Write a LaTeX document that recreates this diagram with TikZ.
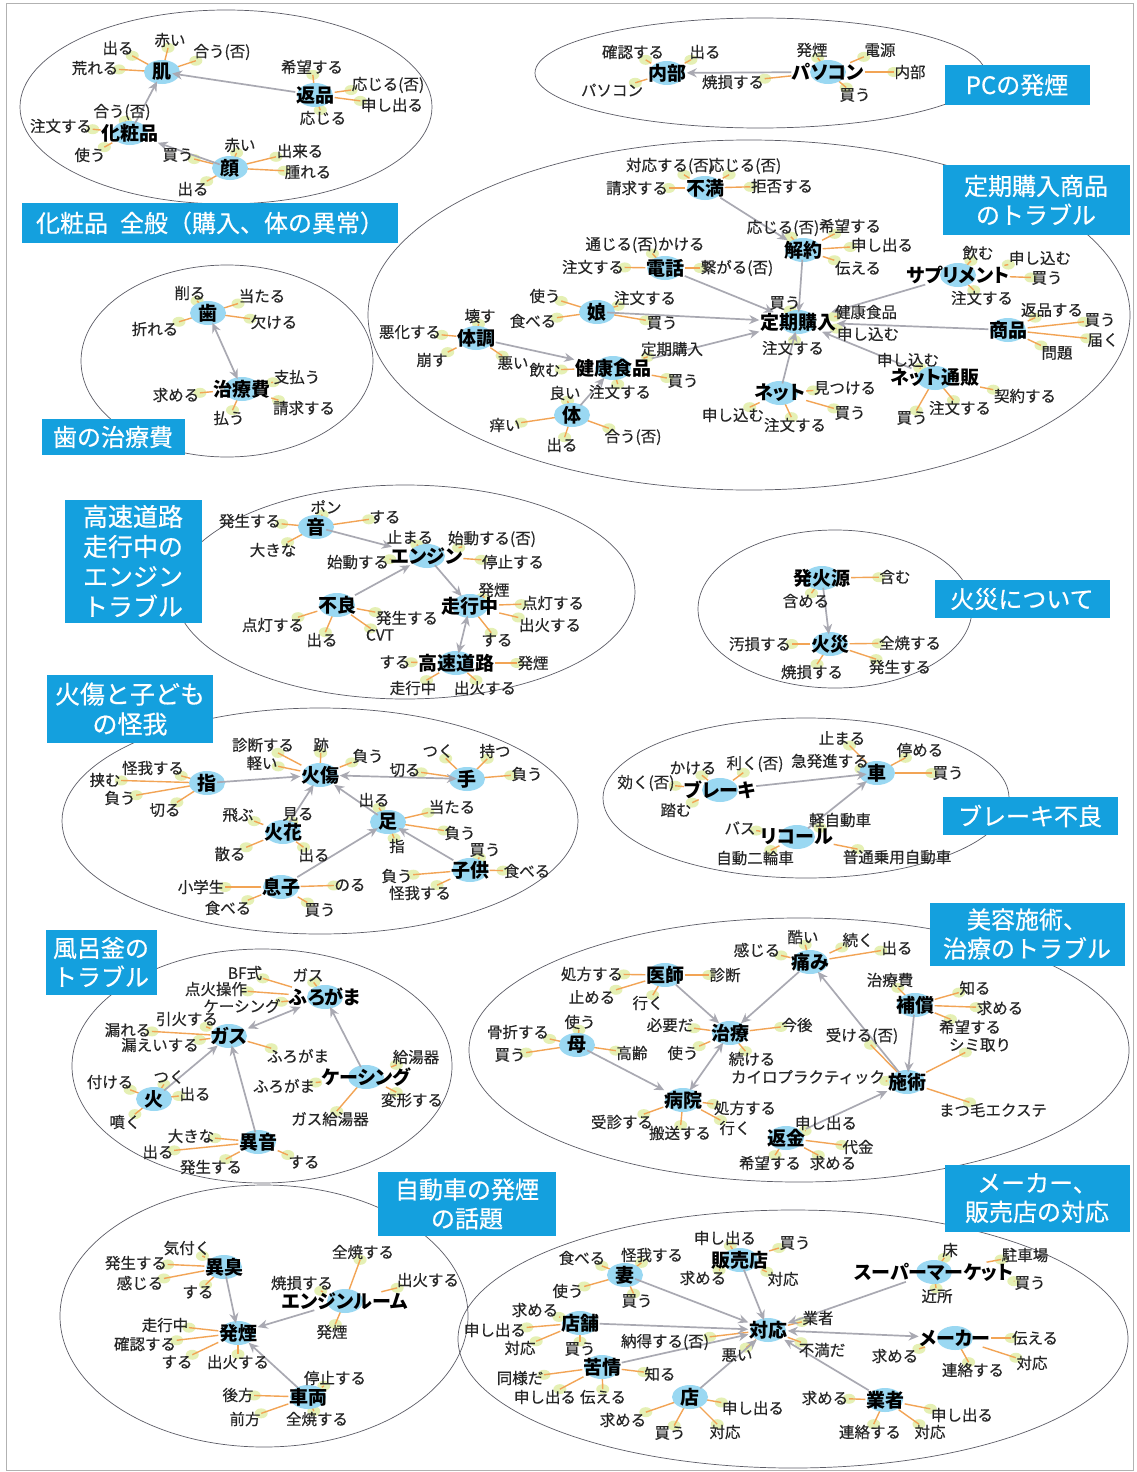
\documentclass[tikz,border=0pt]{standalone}
\usepackage{fontspec}
\setmainfont{Noto Sans CJK JP}
\newfontfamily\leaffont[FakeBold=0.4]{Noto Sans CJK JP}
\newfontfamily\hubfont[RawFeature=+palt]{Noto Sans CJK JP}
\newfontfamily\lblfont[FakeBold=0.5]{Noto Sans CJK JP}
\usetikzlibrary{shapes.geometric,arrows.meta}
\definecolor{hubblue}{HTML}{9AD8F2}
\definecolor{lblblue}{HTML}{14A0DE}
\definecolor{edgeor}{HTML}{F2A455}
\definecolor{argray}{HTML}{A9A9B2}
\definecolor{clline}{HTML}{5C5C66}
\definecolor{glowgreen}{HTML}{DDEB9C}
\pgfdeclarelayer{bg}\pgfdeclarelayer{mid}\pgfsetlayers{bg,mid,main}
\tikzset{
 hub/.style={inner sep=0.5pt, font=\hubfont\fontsize{19}{20}\selectfont\bfseries, text=black},
 lf/.style={inner sep=0.5pt, font=\leaffont\fontsize{15.5}{16}\selectfont, text=black!85},
 oe/.style={draw=edgeor, line width=1.4pt},
 glow/.style={ellipse, fill=glowgreen, fill opacity=0.75, minimum width=13pt, minimum height=10pt, inner sep=0pt},
 ga/.style={draw=argray, line width=1.7pt, -{Stealth[length=10pt,width=9pt]}},
 gb/.style={draw=argray, line width=1.7pt, {Stealth[length=10pt,width=9pt]}-{Stealth[length=10pt,width=9pt]}},
 cl/.style={draw=clline, line width=0.7pt},
 lbl/.style={fill=lblblue, text=white, align=center, inner sep=0pt, font=\lblfont\fontsize{24}{29}\selectfont},
}
\makeatletter
\newcommand\edgelist{}
\newcommand\bloblist{}
\newcommand\arrowlist{}
\newcommand\cloudlist{}
\newcommand\hubat[4]{\g@addto@macro\bloblist{\fill[hubblue] (#2,#3) ellipse [x radius=18pt, y radius=12pt];}\node[hub] (#1) at (#2,#3) {#4};}
\newcommand\leafat[5]{\node[lf] (#2) at (#3,#4) {#5};\g@addto@macro\edgelist{\path (#1) -- (#2) node[pos=1,glow] {};\draw[oe] (#1) -- (#2);}}
\newcommand\conn[3][ga]{\g@addto@macro\arrowlist{\draw[#1] (#2) -- (#3);}}
\newcommand\cloud[4]{\g@addto@macro\cloudlist{\draw[cl] (#1,#2) ellipse [x radius=#3pt, y radius=#4pt];}}
\makeatother
\begin{document}
\begin{tikzpicture}[x=1pt,y=-1pt]
\useasboundingbox (0,0) rectangle (1136,1472);

% ---------- A: cosmetics
\cloud{226}{107}{206}{97}
\hubat{Ahada}{162}{72}{肌}
\leafat{Ahada}{A1}{118}{48}{出る}
\leafat{Ahada}{A2}{170}{40}{赤い}
\leafat{Ahada}{A3}{222}{52}{合う(否)}
\leafat{Ahada}{A4}{95}{68}{荒れる}
\hubat{Ahen}{315}{95}{返品}
\leafat{Ahen}{A5}{312}{67}{希望する}
\leafat{Ahen}{A6}{388}{85}{応じる(否)}
\leafat{Ahen}{A7}{392}{105}{申し出る}
\leafat{Ahen}{A8}{323}{118}{応じる}
\hubat{Akes}{130}{133}{化粧品}
\leafat{Akes}{A9}{122}{112}{合う(否)}
\leafat{Akes}{A10}{61}{126}{注文する}
\leafat{Akes}{A11}{90}{155}{使う}
\hubat{Akao}{230}{168}{顔}
\leafat{Akao}{A12}{178}{155}{買う}
\leafat{Akao}{A13}{240}{145}{赤い}
\leafat{Akao}{A14}{300}{151}{出来る}
\leafat{Akao}{A15}{308}{172}{腫れる}
\leafat{Akao}{A16}{193}{189}{出る}
\conn{Ahen}{Ahada}
\conn{Akes}{Ahada}
\conn{Akao}{Akes}
\node[lbl,minimum width=376pt,minimum height=40pt] (LA) at (210,223) {化粧品\hspace{0.5em}全般（購入、体の異常）};

% ---------- B: PC
\cloud{760}{73}{225}{55}
\hubat{Bnb}{667}{73}{内部}
\leafat{Bnb}{B1}{633}{52}{確認する}
\leafat{Bnb}{B2}{705}{52}{出る}
\leafat{Bnb}{B3}{612}{90}{パソコン}
\hubat{Bpc}{828}{72}{パソコン}
\leafat{Bpc}{B4}{733}{82}{焼損する}
\leafat{Bpc}{B5}{812}{50}{発煙}
\leafat{Bpc}{B6}{880}{50}{電源}
\leafat{Bpc}{B7}{910}{72}{内部}
\leafat{Bpc}{B8}{855}{95}{買う}
\conn{Bpc}{Bnb}
\node[lbl,minimum width=145pt,minimum height=40pt] (LB) at (1017,85) {PCの発煙};

% ---------- C: teeth
\cloud{227}{361}{146}{96}
\hubat{Cha}{208}{313}{歯}
\leafat{Cha}{C1}{190}{293}{削る}
\leafat{Cha}{C2}{262}{296}{当たる}
\leafat{Cha}{C3}{274}{322}{欠ける}
\leafat{Cha}{C4}{155}{329}{折れる}
\hubat{Cch}{242}{389}{治療費}
\leafat{Cch}{C5}{297}{377}{支払う}
\leafat{Cch}{C6}{304}{408}{請求する}
\leafat{Cch}{C7}{176}{395}{求める}
\leafat{Cch}{C8}{229}{418}{払う}
\conn[gb]{Cha}{Cch}
\node[lbl,minimum width=143pt,minimum height=36pt] (LC) at (113,437) {歯の治療費};

% ---------- D: subscription
\cloud{749}{315}{381}{175}
\hubat{Dfm}{705}{188}{不満}
\leafat{Dfm}{D1}{670}{166}{対応する(否)}
\leafat{Dfm}{D2}{745}{166}{応じる(否)}
\leafat{Dfm}{D3}{637}{188}{請求する}
\leafat{Dfm}{D4}{782}{186}{拒否する}
\hubat{Dky}{803}{250}{解約}
\leafat{Dky}{D5}{783}{228}{応じる(否)}
\leafat{Dky}{D6}{850}{226}{希望する}
\leafat{Dky}{D7}{882}{245}{申し出る}
\leafat{Dky}{D8}{858}{268}{伝える}
\hubat{Dtw}{665}{268}{電話}
\leafat{Dtw}{D9}{645}{245}{通じる(否)かける}
\leafat{Dtw}{D10}{593}{267}{注文する}
\leafat{Dtw}{D11}{737}{268}{繋がる(否)}
\hubat{Dms}{597}{312}{娘}
\leafat{Dms}{D12}{545}{296}{使う}
\leafat{Dms}{D13}{645}{298}{注文する}
\leafat{Dms}{D14}{533}{321}{食べる}
\leafat{Dms}{D15}{662}{323}{買う}
\hubat{Dtc}{476}{338}{体調}
\leafat{Dtc}{D16}{480}{316}{壊す}
\leafat{Dtc}{D17}{410}{332}{悪化する}
\leafat{Dtc}{D18}{432}{360}{崩す}
\leafat{Dtc}{D19}{513}{363}{悪い}
\hubat{Dkk}{613}{368}{健康食品}
\leafat{Dkk}{D20}{672}{349}{定期購入}
\leafat{Dkk}{D21}{545}{370}{飲む}
\leafat{Dkk}{D22}{683}{381}{買う}
\leafat{Dkk}{D23}{620}{392}{注文する}
\hubat{Dkr}{572}{415}{体}
\leafat{Dkr}{D24}{565}{393}{良い}
\leafat{Dkr}{D25}{505}{425}{痒い}
\leafat{Dkr}{D26}{562}{445}{出る}
\leafat{Dkr}{D27}{633}{437}{合う(否)}
\hubat{Dtk}{798}{322}{定期購入}
\leafat{Dtk}{D28}{785}{303}{買う}
\leafat{Dtk}{D29}{866}{312}{健康食品}
\leafat{Dtk}{D30}{868}{334}{申し込む}
\leafat{Dtk}{D31}{793}{348}{注文する}
\hubat{Dsp}{958}{275}{サプリメント}
\leafat{Dsp}{D32}{978}{253}{飲む}
\leafat{Dsp}{D33}{1040}{258}{申し込む}
\leafat{Dsp}{D34}{1047}{278}{買う}
\leafat{Dsp}{D35}{982}{298}{注文する}
\hubat{Dsh}{1008}{330}{商品}
\leafat{Dsh}{D36}{1052}{310}{返品する}
\leafat{Dsh}{D37}{1100}{320}{買う}
\leafat{Dsh}{D38}{1103}{340}{届く}
\leafat{Dsh}{D39}{1057}{353}{問題}
\hubat{Dnt}{935}{378}{ネット通販}
\leafat{Dnt}{D40}{908}{360}{申し込む}
\leafat{Dnt}{D41}{1025}{396}{契約する}
\leafat{Dnt}{D42}{960}{408}{注文する}
\leafat{Dnt}{D43}{912}{418}{買う}
\hubat{Dne}{780}{393}{ネット}
\leafat{Dne}{D44}{845}{388}{見つける}
\leafat{Dne}{D45}{850}{413}{買う}
\leafat{Dne}{D46}{733}{415}{申し込む}
\leafat{Dne}{D47}{795}{425}{注文する}
\conn{Dfm}{Dky}
\conn{Dky}{Dtk}
\conn{Dtw}{Dtk}
\conn{Dms}{Dtk}
\conn{Dkk}{Dtk}
\conn{Dtc}{Dkk}
\conn{Dkr}{Dkk}
\conn{Dsp}{Dtk}
\conn{Dsh}{Dtk}
\conn{Dnt}{Dtk}
\conn{Dne}{Dtk}
\node[lbl,minimum width=187pt,minimum height=70pt] (LD) at (1036,200) {定期購入商品\\のトラブル};

% ---------- E: engine
\cloud{405}{592}{230}{107}
\hubat{Eot}{316}{527}{音}
\leafat{Eot}{E1}{326}{507}{ポン}
\leafat{Eot}{E2}{385}{517}{する}
\leafat{Eot}{E3}{250}{521}{発生する}
\leafat{Eot}{E4}{273}{550}{大きな}
\hubat{Eeg}{427}{556}{エンジン}
\leafat{Eeg}{E5}{410}{537}{止まる}
\leafat{Eeg}{E6}{492}{539}{始動する(否)}
\leafat{Eeg}{E7}{358}{562}{始動する}
\leafat{Eeg}{E8}{513}{562}{停止する}
\hubat{Efr}{337}{605}{不良}
\leafat{Efr}{E9}{273}{625}{点灯する}
\leafat{Efr}{E10}{322}{640}{出る}
\leafat{Efr}{E11}{380}{635}{CVT}
\leafat{Efr}{E12}{407}{618}{発生する}
\hubat{Esk}{470}{606}{走行中}
\leafat{Esk}{E13}{494}{590}{発煙}
\leafat{Esk}{E14}{553}{603}{点灯する}
\leafat{Esk}{E15}{550}{625}{出火する}
\leafat{Esk}{E16}{497}{640}{する}
\hubat{Ekd}{456}{663}{高速道路}
\leafat{Ekd}{E17}{395}{662}{する}
\leafat{Ekd}{E18}{533}{663}{発煙}
\leafat{Ekd}{E19}{413}{688}{走行中}
\leafat{Ekd}{E20}{485}{688}{出火する}
\conn{Eot}{Eeg}
\conn{Efr}{Eeg}
\conn{Eeg}{Esk}
\conn[gb]{Esk}{Ekd}
\node[lbl,minimum width=137pt,minimum height=123pt,font=\lblfont\fontsize{25}{30}\selectfont] (LE) at (133,561) {高速道路\\走行中の\\エンジン\\トラブル};

% ---------- F: fire
\cloud{835}{609}{137}{79}
\hubat{Fhk}{822}{578}{発火源}
\leafat{Fhk}{F1}{895}{577}{含む}
\leafat{Fhk}{F2}{806}{601}{含める}
\hubat{Fks}{830}{644}{火災}
\leafat{Fks}{F3}{760}{644}{汚損する}
\leafat{Fks}{F4}{910}{643}{全焼する}
\leafat{Fks}{F5}{812}{672}{焼損する}
\leafat{Fks}{F6}{900}{667}{発生する}
\conn{Fhk}{Fks}
\node[lbl,minimum width=175pt,minimum height=38pt] (LF) at (1022,599) {火災について};

% ---------- G: brake
\cloud{806}{798}{203}{80}
\hubat{Gkr}{877}{773}{車}
\leafat{Gkr}{G1}{842}{738}{止まる}
\leafat{Gkr}{G2}{920}{750}{停める}
\leafat{Gkr}{G3}{948}{773}{買う}
\leafat{Gkr}{G4}{830}{761}{急発進する}
\hubat{Gbr}{720}{790}{ブレーキ}
\leafat{Gbr}{G5}{755}{764}{利く(否)}
\leafat{Gbr}{G6}{693}{768}{かける}
\leafat{Gbr}{G7}{646}{783}{効く(否)}
\leafat{Gbr}{G8}{676}{810}{踏む}
\hubat{Grc}{797}{837}{リコール}
\leafat{Grc}{G9}{840}{820}{軽自動車}
\leafat{Grc}{G10}{740}{828}{バス}
\leafat{Grc}{G11}{755}{858}{自動二輪車}
\leafat{Grc}{G12}{897}{857}{普通乗用自動車}
\conn{Gbr}{Gkr}
\conn{Grc}{Gkr}
\node[lbl,minimum width=175pt,minimum height=38pt] (LG) at (1030,816) {ブレーキ不良};

% ---------- H: burns
\cloud{320}{821}{258}{113}
\hubat{Hyk}{320}{775}{火傷}
\leafat{Hyk}{H1}{263}{745}{診断する}
\leafat{Hyk}{H2}{321}{745}{跡}
\leafat{Hyk}{H3}{262}{763}{軽い}
\leafat{Hyk}{H4}{368}{756}{負う}
\hubat{Hyb}{207}{783}{指}
\leafat{Hyb}{H5}{153}{768}{怪我する}
\leafat{Hyb}{H6}{105}{780}{挟む}
\leafat{Hyb}{H7}{120}{798}{負う}
\leafat{Hyb}{H8}{165}{810}{切る}
\hubat{Hte}{467}{779}{手}
\leafat{Hte}{H9}{405}{770}{切る}
\leafat{Hte}{H10}{438}{751}{つく}
\leafat{Hte}{H11}{495}{751}{持つ}
\leafat{Hte}{H12}{527}{774}{負う}
\hubat{Has}{388}{822}{足}
\leafat{Has}{H13}{374}{800}{出る}
\leafat{Has}{H14}{452}{807}{当たる}
\leafat{Has}{H15}{460}{833}{負う}
\leafat{Has}{H16}{397}{846}{指}
\hubat{Hhb}{283}{832}{火花}
\leafat{Hhb}{H17}{238}{815}{飛ぶ}
\leafat{Hhb}{H18}{298}{814}{見る}
\leafat{Hhb}{H19}{230}{854}{散る}
\leafat{Hhb}{H20}{314}{855}{出る}
\hubat{Hkd}{470}{870}{子供}
\leafat{Hkd}{H21}{485}{850}{買う}
\leafat{Hkd}{H22}{527}{871}{食べる}
\leafat{Hkd}{H23}{397}{876}{負う}
\leafat{Hkd}{H24}{420}{893}{怪我する}
\hubat{Hms}{281}{887}{息子}
\leafat{Hms}{H25}{201}{887}{小学生}
\leafat{Hms}{H26}{228}{908}{食べる}
\leafat{Hms}{H27}{350}{885}{のる}
\leafat{Hms}{H28}{320}{910}{買う}
\conn{Hyb}{Hyk}
\conn[gb]{Hte}{Hyk}
\conn{Hhb}{Hyk}
\conn{Has}{Hyk}
\conn{Hms}{Has}
\conn{Hkd}{Has}
\node[lbl,minimum width=166pt,minimum height=68pt,font=\lblfont\fontsize{25}{30}\selectfont] (LH) at (130,709) {火傷と子ども\\の怪我};

% ---------- I: bath boiler
\cloud{262}{1066}{190}{117}
\hubat{Ifg}{325}{997}{ふろがま}
\leafat{Ifg}{I1}{245}{973}{BF式}
\leafat{Ifg}{I2}{308}{975}{ガス}
\leafat{Ifg}{I3}{216}{989}{点火操作}
\leafat{Ifg}{I4}{242}{1006}{ケーシング}
\hubat{Igs}{229}{1036}{ガス}
\leafat{Igs}{I5}{187}{1019}{引火する}
\leafat{Igs}{I6}{128}{1030}{漏れる}
\leafat{Igs}{I7}{160}{1045}{漏えいする}
\leafat{Igs}{I8}{298}{1056}{ふろがま}
\hubat{Ihi}{154}{1099}{火}
\leafat{Ihi}{I9}{169}{1077}{つく}
\leafat{Ihi}{I10}{110}{1082}{付ける}
\leafat{Ihi}{I11}{195}{1094}{出る}
\leafat{Ihi}{I12}{125}{1122}{噴く}
\hubat{Ics}{366}{1077}{ケーシング}
\leafat{Ics}{I13}{416}{1057}{給湯器}
\leafat{Ics}{I14}{284}{1086}{ふろがま}
\leafat{Ics}{I15}{412}{1100}{変形する}
\leafat{Ics}{I16}{330}{1119}{ガス給湯器}
\hubat{Iin}{258}{1142}{異音}
\leafat{Iin}{I17}{191}{1136}{大きな}
\leafat{Iin}{I18}{158}{1152}{出る}
\leafat{Iin}{I19}{211}{1167}{発生する}
\leafat{Iin}{I20}{304}{1162}{する}
\conn[gb]{Igs}{Ifg}
\conn{Ics}{Ifg}
\conn{Ihi}{Igs}
\conn{Iin}{Igs}
\node[lbl,minimum width=111pt,minimum height=65pt] (LI) at (101,962) {風呂釜の\\トラブル};

% ---------- J: beauty
\cloud{799}{1050}{330}{132}
\hubat{Jit}{810}{962}{痛み}
\leafat{Jit}{J1}{803}{937}{酷い}
\leafat{Jit}{J2}{858}{940}{続く}
\leafat{Jit}{J3}{897}{948}{出る}
\leafat{Jit}{J4}{757}{950}{感じる}
\hubat{Jis}{665}{975}{医師}
\leafat{Jis}{J5}{592}{974}{処方する}
\leafat{Jis}{J6}{725}{975}{診断}
\leafat{Jis}{J7}{592}{997}{止める}
\leafat{Jis}{J8}{648}{1003}{行く}
\hubat{Jhs}{915}{1005}{補償}
\leafat{Jhs}{J9}{890}{980}{治療費}
\leafat{Jhs}{J10}{975}{988}{知る}
\leafat{Jhs}{J11}{1000}{1008}{求める}
\leafat{Jhs}{J12}{970}{1027}{希望する}
\hubat{Jcr}{730}{1033}{治療}
\leafat{Jcr}{J13}{670}{1025}{必要だ}
\leafat{Jcr}{J14}{797}{1025}{今後}
\leafat{Jcr}{J15}{683}{1053}{使う}
\leafat{Jcr}{J16}{752}{1059}{続ける}
\hubat{Jha}{577}{1045}{母}
\leafat{Jha}{J17}{580}{1022}{使う}
\leafat{Jha}{J18}{518}{1032}{骨折する}
\leafat{Jha}{J19}{510}{1055}{買う}
\leafat{Jha}{J20}{632}{1053}{高齢}
\hubat{Jsj}{907}{1082}{施術}
\leafat{Jsj}{J21}{980}{1045}{シミ取り}
\leafat{Jsj}{J22}{862}{1036}{受ける(否)}
\leafat{Jsj}{J23}{808}{1077}{カイロプラクティック}
\leafat{Jsj}{J24}{993}{1110}{まつ毛エクステ}
\hubat{Jby}{683}{1100}{病院}
\leafat{Jby}{J25}{745}{1108}{処方する}
\leafat{Jby}{J26}{622}{1122}{受診する}
\leafat{Jby}{J27}{680}{1133}{搬送する}
\leafat{Jby}{J28}{735}{1128}{行く}
\hubat{Jhk}{786}{1138}{返金}
\leafat{Jhk}{J29}{826}{1123}{申し出る}
\leafat{Jhk}{J30}{858}{1147}{代金}
\leafat{Jhk}{J31}{770}{1163}{希望する}
\leafat{Jhk}{J32}{833}{1163}{求める}
\conn{Jis}{Jcr}
\conn{Jit}{Jcr}
\conn{Jsj}{Jit}
\conn{Jhs}{Jsj}
\conn{Jha}{Jby}
\conn[gb]{Jcr}{Jby}
\conn{Jhk}{Jsj}
\node[lbl,minimum width=195pt,minimum height=63pt] (LJ) at (1027,934) {美容施術、\\治療のトラブル};

% ---------- K: car smoke
\cloud{264}{1316}{204}{131}
\hubat{Kis}{224}{1267}{異臭}
\leafat{Kis}{K1}{187}{1248}{気付く}
\leafat{Kis}{K2}{136}{1263}{発生する}
\leafat{Kis}{K3}{140}{1283}{感じる}
\leafat{Kis}{K4}{198}{1292}{する}
\hubat{Ker}{345}{1301}{エンジンルーム}
\leafat{Ker}{K5}{363}{1252}{全焼する}
\leafat{Ker}{K6}{302}{1283}{焼損する}
\leafat{Ker}{K7}{428}{1280}{出火する}
\leafat{Ker}{K8}{332}{1332}{発煙}
\hubat{Khe}{238}{1333}{発煙}
\leafat{Khe}{K9}{165}{1325}{走行中}
\leafat{Khe}{K10}{145}{1344}{確認する}
\leafat{Khe}{K11}{177}{1362}{する}
\leafat{Khe}{K12}{238}{1362}{出火する}
\hubat{Ksr}{308}{1397}{車両}
\leafat{Ksr}{K13}{335}{1378}{停止する}
\leafat{Ksr}{K14}{238}{1395}{後方}
\leafat{Ksr}{K15}{245}{1419}{前方}
\leafat{Ksr}{K16}{317}{1419}{全焼する}
\conn{Kis}{Khe}
\conn{Ker}{Khe}
\conn{Ksr}{Khe}
\node[lbl,minimum width=178pt,minimum height=64pt] (LK) at (467,1204) {自動車の発煙\\の話題};

% ---------- L: maker
\cloud{793}{1339}{335}{129}
\hubat{Ltk}{768}{1330}{対応}
\leafat{Ltk}{L1}{665}{1342}{納得する(否)}
\leafat{Ltk}{L2}{737}{1355}{悪い}
\leafat{Ltk}{L3}{822}{1350}{不満だ}
\leafat{Ltk}{L4}{818}{1318}{業者}
\hubat{Lts}{625}{1275}{妻}
\leafat{Lts}{L5}{582}{1258}{食べる}
\leafat{Lts}{L6}{652}{1255}{怪我する}
\leafat{Lts}{L7}{568}{1291}{使う}
\leafat{Lts}{L8}{637}{1301}{買う}
\hubat{Lhb}{740}{1260}{販売店}
\leafat{Lhb}{L9}{725}{1238}{申し出る}
\leafat{Lhb}{L10}{795}{1243}{買う}
\leafat{Lhb}{L11}{703}{1278}{求める}
\leafat{Lhb}{L12}{783}{1279}{対応}
\hubat{Ltp}{580}{1323}{店舗}
\leafat{Ltp}{L13}{535}{1310}{求める}
\leafat{Ltp}{L14}{495}{1330}{申し出る}
\leafat{Ltp}{L15}{520}{1348}{対応}
\leafat{Ltp}{L16}{580}{1349}{買う}
\hubat{Lkj}{602}{1367}{苦情}
\leafat{Lkj}{L17}{520}{1378}{同様だ}
\leafat{Lkj}{L18}{660}{1374}{知る}
\leafat{Lkj}{L19}{545}{1397}{申し出る}
\leafat{Lkj}{L20}{603}{1397}{伝える}
\hubat{Lmi}{690}{1397}{店}
\leafat{Lmi}{L21}{623}{1420}{求める}
\leafat{Lmi}{L22}{670}{1433}{買う}
\leafat{Lmi}{L23}{753}{1408}{申し出る}
\leafat{Lmi}{L24}{725}{1432}{対応}
\hubat{Lsm}{934}{1272}{スーパーマーケット}
\leafat{Lsm}{L25}{950}{1250}{床}
\leafat{Lsm}{L26}{1025}{1255}{駐車場}
\leafat{Lsm}{L27}{1030}{1283}{買う}
\leafat{Lsm}{L28}{937}{1296}{近所}
\hubat{Lmk}{955}{1338}{メーカー}
\leafat{Lmk}{L29}{1035}{1338}{伝える}
\leafat{Lmk}{L30}{895}{1356}{求める}
\leafat{Lmk}{L31}{973}{1370}{連絡する}
\leafat{Lmk}{L32}{1032}{1363}{対応}
\hubat{Lgs}{885}{1400}{業者}
\leafat{Lgs}{L33}{825}{1398}{求める}
\leafat{Lgs}{L34}{962}{1415}{申し出る}
\leafat{Lgs}{L35}{870}{1432}{連絡する}
\leafat{Lgs}{L36}{930}{1432}{対応}
\conn{Lts}{Ltk}
\conn{Lhb}{Ltk}
\conn{Ltp}{Ltk}
\conn{Lkj}{Ltk}
\conn{Lmi}{Ltk}
\conn{Lgs}{Ltk}
\conn{Lsm}{Ltk}
\conn[gb]{Ltk}{Lmk}
\node[lbl,minimum width=185pt,minimum height=67pt] (LL) at (1037,1198) {メーカー、\\販売店の対応};

% ---------- layers
\begin{pgfonlayer}{bg}
\fill[white] (0,0) rectangle (1136,1472);
\draw[gray!60, line width=0.5pt] (6,3) rectangle (1133,1470);
\cloudlist
\edgelist
\end{pgfonlayer}
\begin{pgfonlayer}{mid}
\bloblist
\arrowlist
\end{pgfonlayer}
\end{tikzpicture}
\end{document}
